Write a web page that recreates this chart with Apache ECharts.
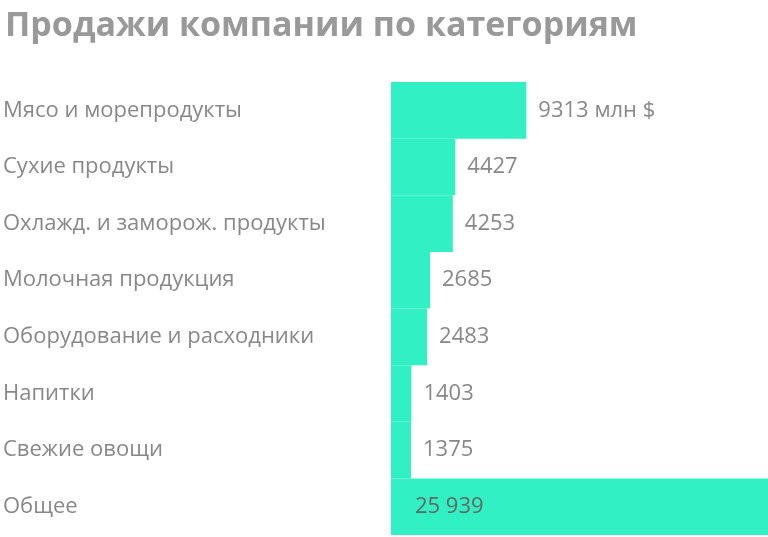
<!DOCTYPE html>
<html><head><meta charset="utf-8">
<script src="https://cdn.jsdelivr.net/npm/echarts@6/dist/echarts.min.js"></script>
<style>html,body{margin:0;padding:0;background:#fff}#c{width:768px;height:537px}</style>
</head><body><div id="c"></div>
<script>
const categories = ["Мясо и морепродукты","Сухие продукты","Охлажд. и заморож. продукты","Молочная продукция","Оборудование и расходники","Напитки","Свежие овощи","Общее"];
const values = [9313, 4427, 4253, 2685, 2483, 1403, 1375, 25939];
const labels = ["9313 млн $","4427","4253","2685","2483","1403","1375","25 939"];
const chart = echarts.init(document.getElementById('c'));
chart.setOption({
  animation:false,
  title:{text:"Продажи компании по категориям",left:0,top:4,textStyle:{fontFamily:"Open Sans",fontSize:34,fontWeight:"bold",color:"#999"}},
  grid:{left:386,right:0,top:82,bottom:2},
  xAxis:{type:'value',min:0,max:25939,show:false},
  yAxis:{type:'category',inverse:true,data:categories,axisLine:{show:false},axisTick:{show:false},
    axisLabel:{margin:388,align:'left',fontFamily:"Open Sans",fontSize:22,color:"#888"}},
  series:[{type:'bar',barWidth:'100%',barCategoryGap:0,
    itemStyle:{color:'#31f1c4'},
    data:values.map((v,i)=>({value:v,label:i===values.length-1?{position:'insideLeft',offset:[12,0],color:'#666'}:{}})),
    label:{show:true,position:'right',distance:12,fontFamily:"Open Sans",fontSize:22,color:"#888",
      formatter:p=>labels[p.dataIndex]}}]
});
</script></body></html>
